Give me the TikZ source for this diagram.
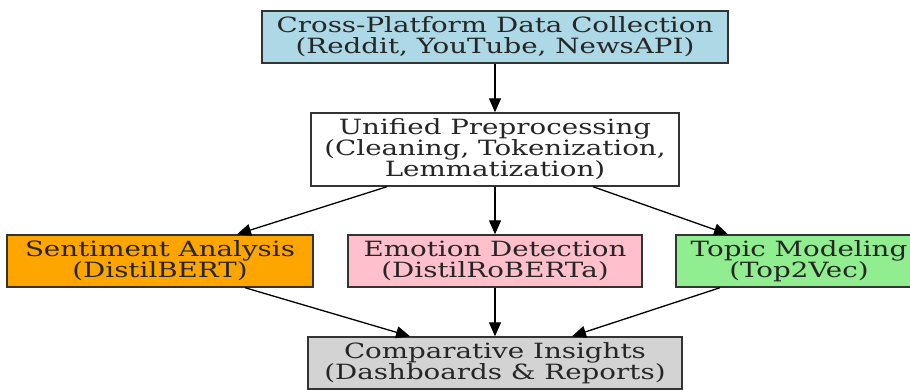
\documentclass[tikz,border=0pt]{standalone}
\usepackage{fontspec}
\setmainfont{DejaVu Serif}[FakeStretch=1.32]
\usetikzlibrary{arrows.meta}
\definecolor{cLightBlue}{HTML}{ADD8E6}
\definecolor{cOrange}{HTML}{FFA500}
\definecolor{cPink}{HTML}{FFC0CB}
\definecolor{cLightGreen}{HTML}{90EE90}
\definecolor{cLightGray}{HTML}{D3D3D3}
\begin{document}
\begin{tikzpicture}[x=1pt,y=1pt,
  stagebox/.style={draw=black!80, line width=1.4pt, inner sep=0pt, align=center,
    font=\fontsize{21}{21}\selectfont, text=black!85, minimum height=52pt},
  flow/.style={line width=1.3pt, -{Triangle[length=14pt,width=12pt]}}]
\clip (0,0) rectangle (910,389);
\fill[white] (0,0) rectangle (910,389);
\node[stagebox, fill=cLightBlue, minimum width=466pt] (collect) at (495,352)
  {Cross-Platform Data Collection\\(Reddit, YouTube, NewsAPI)};
\node[stagebox, fill=white, minimum width=368pt, minimum height=73pt] (prep) at (495,239.5)
  {Unified Preprocessing\\(Cleaning, Tokenization,\\Lemmatization)};
\node[stagebox, fill=cOrange, minimum width=306pt] (sent) at (160,128)
  {Sentiment Analysis\\(DistilBERT)};
\node[stagebox, fill=cPink, minimum width=294pt] (emo) at (495,128)
  {Emotion Detection\\(DistilRoBERTa)};
\node[stagebox, fill=cLightGreen, minimum width=246pt] (topic) at (799,128)
  {Topic Modeling\\(Top2Vec)};
\node[stagebox, fill=cLightGray, minimum width=374pt] (comp) at (495,26)
  {Comparative Insights\\(Dashboards \& Reports)};
\draw[flow] (collect.south) -- (prep.north);
\draw[flow] ([xshift=-108pt]prep.south) -- ([xshift=77pt]sent.north);
\draw[flow] (prep.south) -- (emo.north);
\draw[flow] ([xshift=98pt]prep.south) -- ([xshift=-71pt]topic.north);
\draw[flow] ([xshift=85pt]sent.south) -- ([xshift=-85pt]comp.north);
\draw[flow] (emo.south) -- (comp.north);
\draw[flow] ([xshift=-79pt]topic.south) -- ([xshift=77pt]comp.north);
\end{tikzpicture}
\end{document}
